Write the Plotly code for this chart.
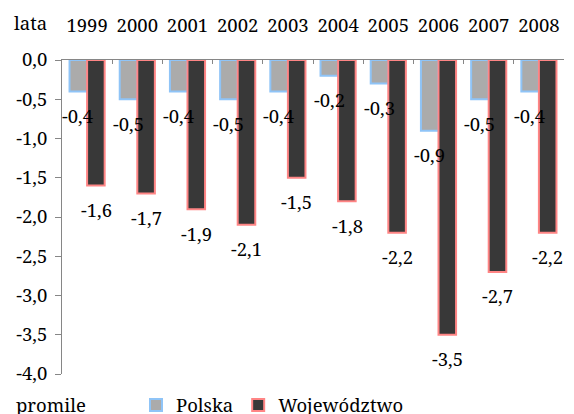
import plotly.graph_objects as go

# Natural increase per 1000 population (promile), by year
years = ["1999", "2000", "2001", "2002", "2003", "2004", "2005", "2006", "2007", "2008"]
polska = [-0.4, -0.5, -0.4, -0.5, -0.4, -0.2, -0.3, -0.9, -0.5, -0.4]
wojewodztwo = [-1.6, -1.7, -1.9, -2.1, -1.5, -1.8, -2.2, -3.5, -2.7, -2.2]

y_tick_vals = [0.0, -0.5, -1.0, -1.5, -2.0, -2.5, -3.0, -3.5, -4.0]
y_tick_text = ["0,0", "-0,5", "-1,0", "-1,5", "-2,0", "-2,5", "-3,0", "-3,5", "-4,0"]

FONT = "Noto Serif"
FS = 18.5


def fmt(v):
    return f"{v:.1f}".replace(".", ",")


fig = go.Figure()
fig.add_trace(go.Bar(
    name="Polska", x=years, y=polska,
    marker=dict(color="#ababab", line=dict(color="#8fc4f7", width=2)),
))
fig.add_trace(go.Bar(
    name="Województwo", x=years, y=wojewodztwo,
    marker=dict(color="#383838", line=dict(color="#ff8585", width=2)),
))

# Value labels below each bar end (x given as the category index)
annotations = []
for i, v in enumerate(polska):
    annotations.append(dict(x=i, y=v, xref="x", yref="y", text=fmt(v), showarrow=False,
                            xshift=-9, yshift=-24, font=dict(family=FONT, size=FS, color="black")))
for i, v in enumerate(wojewodztwo):
    annotations.append(dict(x=i, y=v, xref="x", yref="y", text=fmt(v), showarrow=False,
                            xshift=9, yshift=-24, font=dict(family=FONT, size=FS, color="black")))

W, H = 574, 414
ML, MR, MT, MB = 62, 10, 60, 40
pw, ph = W - ML - MR, H - MT - MB

# Axis captions (positions given in pixels, converted to paper coordinates)
for text, px, py in [("lata", 12, 22), ("promile", 14, 404)]:
    annotations.append(dict(x=(px - ML) / pw, y=(H - MB - py) / ph, xref="paper", yref="paper",
                            text=text, showarrow=False, xanchor="left", yanchor="middle",
                            font=dict(family=FONT, size=FS, color="black")))

fig.update_layout(
    width=W, height=H,
    margin=dict(l=ML, r=MR, t=MT, b=MB, autoexpand=False),
    paper_bgcolor="white", plot_bgcolor="white",
    barmode="group", bargap=0.3, bargroupgap=0.0,
    font=dict(family=FONT, size=FS, color="black"),
    showlegend=True,
    legend=dict(orientation="h", x=(136 - ML) / pw, xanchor="left", y=-0.1, yanchor="middle",
                font=dict(family=FONT, size=FS, color="black"),
                bgcolor="rgba(0,0,0,0)"),
    annotations=annotations,
)
fig.update_xaxes(
    type="category", range=[-0.5, len(years) - 0.5], side="top",
    showline=True, linecolor="#868686", linewidth=1,
    ticks="inside", ticklen=4, tickcolor="#868686", tickson="boundaries",
    showgrid=False, zeroline=False, ticklabelstandoff=20, tickangle=0,
    tickfont=dict(family=FONT, size=FS, color="black"),
)
fig.update_yaxes(
    range=[-4.0, 0.0], tickvals=y_tick_vals, ticktext=y_tick_text,
    showline=True, linecolor="#868686", linewidth=1,
    ticks="outside", ticklen=6, tickcolor="#868686", ticklabelstandoff=4,
    showgrid=False, zeroline=False,
    tickfont=dict(family=FONT, size=FS, color="black"),
)

fig.write_html("out.html")
